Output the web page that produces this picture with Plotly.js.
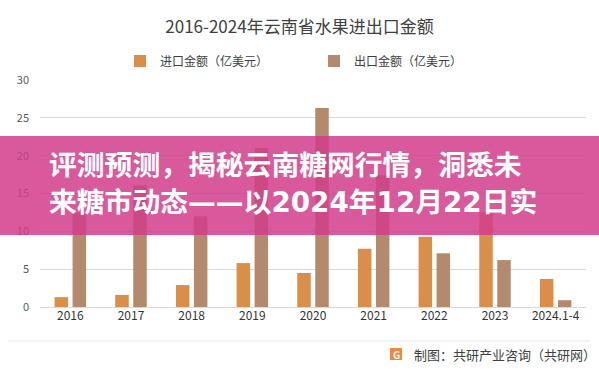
<!DOCTYPE html>
<html>
<head>
<meta charset="utf-8">
<script src="https://cdn.plot.ly/plotly-3.0.1.min.js"></script>
<style>html,body{margin:0;padding:0;background:#fff;}#chart{width:599px;height:374px;}</style>
</head>
<body>
<div id="chart"></div>
<script>
const categories = ['2016','2017','2018','2019','2020','2021','2022','2023','2024.1-4'];
const importValues = [1.3, 1.6, 2.9, 5.8, 4.5, 7.7, 9.3, 12.5, 3.7];
const exportValues = [12.4, 16.1, 12.0, 21.0, 26.3, 17.4, 7.1, 6.2, 0.9];
const seriesNames = ['进口金额（亿美元）', '出口金额（亿美元）'];
const yTicks = [0, 5, 10, 15, 20, 25, 30];

const FONT = '"Noto Sans CJK SC", "Noto Sans", sans-serif';
const FONT_DIGITS = '"DejaVu Sans", "Noto Sans CJK SC", sans-serif';

const traces = [
  {type:'bar', name: seriesNames[0], x: categories, y: importValues, marker:{color:'#D98E4A'}, hoverinfo:'none'},
  {type:'bar', name: seriesNames[1], x: categories, y: exportValues, marker:{color:'#B48A6E'}, hoverinfo:'none'}
];

const layout = {
  width: 599, height: 374,
  margin: {l:40, r:13, t:80, b:67},
  paper_bgcolor:'#ffffff', plot_bgcolor:'#ffffff',
  font: {family: FONT, color:'#404040'},
  title: {text:'2016-2024年云南省水果进出口金额', font:{size:17, color:'#404040', family: FONT}, x:0.5, xanchor:'center', y:1-27/374, yanchor:'middle'},
  barmode:'group', bargap:0.407, bargroupgap:0.25,
  showlegend:true,
  legend: {orientation:'h', x:(120-40)/546, xanchor:'left', y:(307-61)/227, yanchor:'middle', font:{size:12, color:'#404040', family: FONT}, entrywidth:149, entrywidthmode:'pixels', itemwidth:30, traceorder:'normal'},
  xaxis: {type:'category', tickfont:{size:12, color:'#333333', family: FONT}, showgrid:false, showline:false, ticks:'', fixedrange:true},
  yaxis: {range:[0,30], tickvals:yTicks, tickfont:{size:11, color:'#595959', family: FONT}, showgrid:true, gridcolor:'#D9D9D9', gridwidth:1, zeroline:true, zerolinecolor:'#D9D9D9', showline:false, ticks:'', ticklabelstandoff:10, fixedrange:true},
  shapes: [
    {type:'line', xref:'paper', yref:'paper', x0:(8-40)/546, x1:(590-40)/546, y0:(307-341)/227, y1:(307-341)/227, line:{color:'#E6E6E6', width:1}},
    {type:'rect', xref:'paper', yref:'paper', x0:(390-40)/546, x1:(402-40)/546, y0:(307-360)/227, y1:(307-348)/227, fillcolor:'#EE8A3C', line:{width:0}},
    {type:'rect', xref:'paper', yref:'paper', layer:'above', x0:-40/546, x1:(599-40)/546, y0:(307-235)/227, y1:(307-136)/227, fillcolor:'rgba(209,61,139,0.85)', line:{width:0}}
  ],
  annotations: [
    {xref:'paper', yref:'paper', x:(412-40)/546, y:(307-354)/227, xanchor:'left', yanchor:'middle', showarrow:false, text:'制图：共研产业咨询（共研网）', font:{size:13, color:'#404040', family: FONT}},
    {xref:'paper', yref:'paper', x:(396-40)/546, y:(307-354)/227, xanchor:'center', yanchor:'middle', showarrow:false, text:'G', font:{size:10, color:'#ffffff', family: FONT, weight:'bold'}},
    {xref:'paper', yref:'paper', x:(47-40)/546, y:(307-163)/227, xanchor:'left', yanchor:'middle', showarrow:false, text:'评测预测，揭秘云南糖网行情，洞悉未', font:{size:27.8, color:'#ffffff', family: FONT, weight:'bold'}},
    {xref:'paper', yref:'paper', x:(47-40)/546, y:(307-202)/227, xanchor:'left', yanchor:'middle', showarrow:false, text:'来糖市动态——以2024年12月22日实', font:{size:27.8, color:'#ffffff', family: FONT_DIGITS, weight:'bold'}}
  ]
};

Plotly.newPlot('chart', traces, layout, {staticPlot:true, displayModeBar:false});
</script>
</body>
</html>
